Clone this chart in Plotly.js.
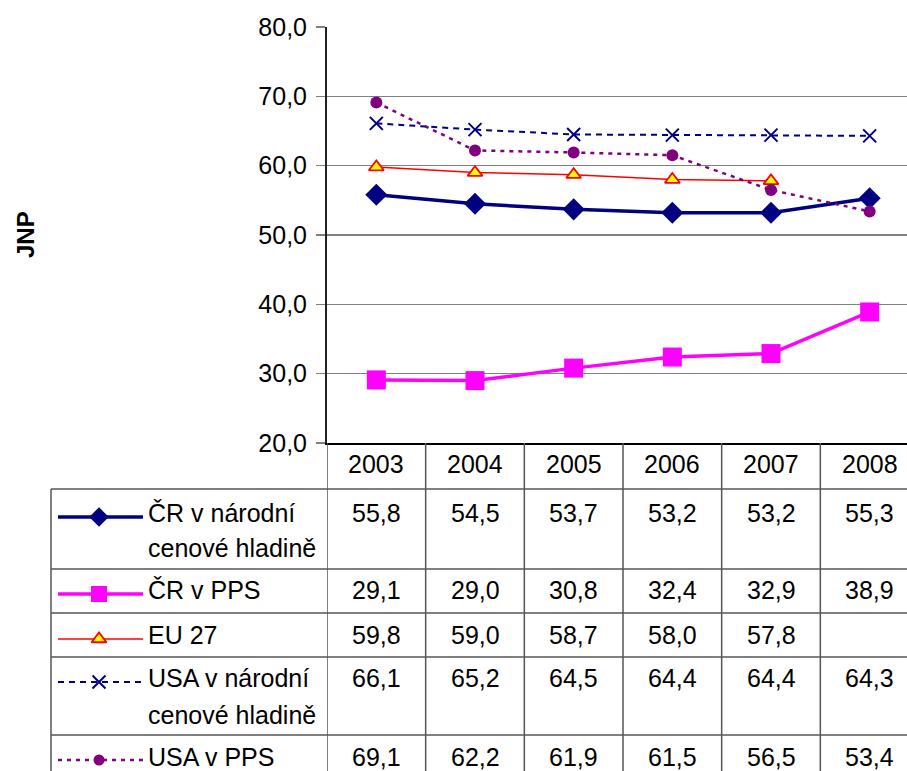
<!DOCTYPE html>
<html>
<head>
<meta charset="utf-8">
<script src="https://cdn.plot.ly/plotly-3.0.1.min.js"></script>
<style>
html,body{margin:0;padding:0;overflow:hidden;background:#fff;}
#chart{width:920px;height:771px;}
</style>
</head>
<body>
<div id="chart"></div>
<script>
// ---- data ----
const years = ['2003','2004','2005','2006','2007','2008'];
const crNarodni = [55.8, 54.5, 53.7, 53.2, 53.2, 55.3];
const crPPS = [29.1, 29.0, 30.8, 32.4, 32.9, 38.9];
const eu27 = [59.8, 59.0, 58.7, 58.0, 57.8, null];
const usaNarodni = [66.1, 65.2, 64.5, 64.4, 64.4, 64.3];
const usaPPS = [69.1, 62.2, 61.9, 61.5, 56.5, 53.4];
const seriesNames = [['ČR v národní','cenové hladině'], ['ČR v PPS'], ['EU 27'], ['USA v národní','cenové hladině'], ['USA v PPS']];
const yTitle = 'JNP';

// ---- layout geometry (pixels) ----
const W = 920, H = 771;
const plotL = 327, plotR = 919, plotT = 27, plotB = 443;
const FONT = 'Arial, "Liberation Sans", sans-serif';
const FS = 25;
const py = y => 1 - y / H;

const styles = [
  {line:{color:'#000080', width:3.5}, marker:{symbol:'diamond', size:17, color:'#000080'}},
  {line:{color:'#FF00FF', width:3.5}, marker:{symbol:'square', size:19, color:'#FF00FF'}},
  {line:{color:'#FF0000', width:1.5}, marker:{symbol:'triangle-up', size:13, color:'#FFFF00', line:{color:'#FF0000', width:1.8}}},
  {line:{color:'#000080', width:2, dash:'6px,5px'}, marker:{symbol:'x-thin', size:13, color:'#000080', line:{color:'#000080', width:2}}},
  {line:{color:'#800080', width:2.5, dash:'4px,5px'}, marker:{symbol:'circle', size:12, color:'#800080'}}
];
const legendSizes = [15, 16, 13, 13, 11];
const allSeries = [crNarodni, crPPS, eu27, usaNarodni, usaPPS];

const traces = [];
allSeries.forEach((s, i) => {
  traces.push({
    x: years, y: s, type: 'scatter', mode: 'lines+markers',
    name: seriesNames[i].join(' '), showlegend: false, cliponaxis: false,
    line: styles[i].line, marker: styles[i].marker, connectgaps: false,
    hoverinfo: 'x+y'
  });
});

// ---- table rows ----
const rowLines = [489, 569, 613, 657, 735];
const rowTextY = [513, 590, 635, 678, 757];
const rowSecondY = [548, null, null, 715, null];
const glyphY = [517, 594, 639, 682, 760];

allSeries.forEach((s, i) => {
  const st = styles[i];
  traces.push({
    x: [58, 143], y: [glyphY[i], glyphY[i]], xaxis: 'x2', yaxis: 'y2',
    type: 'scatter', mode: 'lines', line: st.line, showlegend: false, hoverinfo: 'skip', cliponaxis: false
  });
  traces.push({
    x: [99], y: [glyphY[i]], xaxis: 'x2', yaxis: 'y2',
    type: 'scatter', mode: 'markers', marker: Object.assign({}, st.marker, {size: legendSizes[i]}),
    showlegend: false, hoverinfo: 'skip', cliponaxis: false
  });
});

const shapes = [];
const annotations = [];
const gridC = '#555555';
rowLines.forEach(y => {
  shapes.push({type:'line', xref:'paper', yref:'paper', x0: 51/W, x1: 1, y0: py(y), y1: py(y), line:{color:gridC, width:1.5}});
});
shapes.push({type:'line', xref:'paper', yref:'paper', x0: 51/W, x1: 51/W, y0: py(489), y1: 0, line:{color:gridC, width:1.5}});
for (let i = 0; i <= years.length; i++) {
  shapes.push({type:'line', xref:'x', yref:'paper', x0: i - 0.5, x1: i - 0.5, y0: py(plotB), y1: 0, line:{color:gridC, width:1.5}});
}
years.forEach((yr, j) => {
  annotations.push({x: j, y: py(464), xref:'x', yref:'paper', text: yr, showarrow:false, xanchor:'center', yanchor:'middle', font:{family:FONT, size:FS, color:'#000'}});
});
allSeries.forEach((s, i) => {
  s.forEach((v, j) => {
    if (v === null) return;
    annotations.push({x: j, y: py(rowTextY[i]), xref:'x', yref:'paper', text: v.toFixed(1).replace('.', ','), showarrow:false, xanchor:'center', yanchor:'middle', font:{family:FONT, size:FS, color:'#000'}});
  });
  annotations.push({x: 146/W, y: py(rowTextY[i]), xref:'paper', yref:'paper', text: seriesNames[i][0], showarrow:false, xanchor:'left', yanchor:'middle', font:{family:FONT, size:FS, color:'#000'}});
  if (seriesNames[i][1]) {
    annotations.push({x: 146/W, y: py(rowSecondY[i]), xref:'paper', yref:'paper', text: seriesNames[i][1], showarrow:false, xanchor:'left', yanchor:'middle', font:{family:FONT, size:FS, color:'#000'}});
  }
});
annotations.push({x: 25/W, y: py((plotT + plotB) / 2), xref:'paper', yref:'paper', text: '<b>' + yTitle + '</b>', textangle: -90, showarrow:false, xanchor:'center', yanchor:'middle', font:{family:FONT, size:24, color:'#000'}});

const layout = {
  width: W, height: H,
  margin: {l:0, r:0, t:0, b:0},
  paper_bgcolor: '#fff', plot_bgcolor: 'rgba(0,0,0,0)',
  separators: ', ',
  showlegend: false,
  xaxis: {
    type: 'category', domain: [plotL / W, plotR / W], range: [-0.5, 5.5], anchor: 'y',
    showticklabels: false, ticks: '', showgrid: false, zeroline: false,
    showline: true, linecolor: '#000', linewidth: 2, fixedrange: true
  },
  yaxis: {
    domain: [py(plotB), py(plotT)], range: [20, 80], dtick: 10, tick0: 20, anchor: 'x',
    tickformat: '.1f', showgrid: true, gridcolor: '#808080', gridwidth: 1.5,
    ticks: 'outside', ticklen: 9, tickwidth: 1.5, tickcolor: '#808080',
    showline: true, linecolor: '#222', linewidth: 2, zeroline: false,
    tickfont: {family: FONT, size: FS, color: '#000'}, ticklabelstandoff: 4, fixedrange: true
  },
  xaxis2: {domain:[0, plotL / W], range:[0, plotL], visible:false, fixedrange:true, anchor:'y2'},
  yaxis2: {domain:[0, py(plotB)], range:[H, plotB], visible:false, fixedrange:true, anchor:'x2'},
  shapes: shapes,
  annotations: annotations
};

Plotly.newPlot('chart', traces, layout, {displayModeBar: false, staticPlot: true});
</script>
</body>
</html>
